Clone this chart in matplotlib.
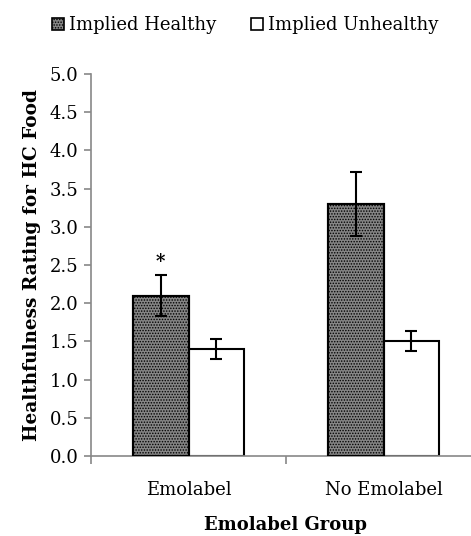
import numpy as np
import matplotlib
matplotlib.use('Agg')
import matplotlib.pyplot as plt
from matplotlib.patches import Patch

plt.rcParams['font.family'] = ['DejaVu Serif']
plt.rcParams['hatch.linewidth'] = 0.7
plt.rcParams['hatch.color'] = '#333333'

groups = ['Emolabel', 'No Emolabel']
series = ['Implied Healthy', 'Implied Unhealthy']
healthy = [2.1, 3.3]
healthy_err = [0.27, 0.42]
unhealthy = [1.4, 1.5]
unhealthy_err = [0.13, 0.13]
yticks = [0.0, 0.5, 1.0, 1.5, 2.0, 2.5, 3.0, 3.5, 4.0, 4.5, 5.0]

fig = plt.figure(figsize=(4.71, 5.36), dpi=100)
ax = fig.add_axes([91 / 471, 80 / 536, 390 / 471, 382 / 536])

x = np.arange(len(groups))
w = 0.287
ax.bar(x - w / 2, healthy, w, facecolor='#858585', edgecolor='black',
       linewidth=1.5, hatch='......', zorder=2)
ax.bar(x - w / 2, healthy, w, facecolor='none', edgecolor='black',
       linewidth=1.5, zorder=3)
ax.bar(x + w / 2, unhealthy, w, facecolor='white', edgecolor='black',
       linewidth=1.5, zorder=2)
ax.errorbar(x - w / 2, healthy, yerr=healthy_err, fmt='none', ecolor='black',
            elinewidth=1.5, capsize=4.5, capthick=1.5, zorder=4)
ax.errorbar(x + w / 2, unhealthy, yerr=unhealthy_err, fmt='none', ecolor='black',
            elinewidth=1.5, capsize=4.5, capthick=1.5, zorder=4)

# significance marker
ax.text(x[0] - w / 2, healthy[0] + healthy_err[0] + 0.05, '*', ha='center',
        va='bottom', fontsize=13, fontweight='bold')

ax.set_xlim(-0.5, 1.5)
ax.set_ylim(0, 5)
ax.set_yticks(yticks)
ax.set_yticklabels(['%.1f' % v for v in yticks], fontsize=13)
ax.set_xticks([-0.5, 0.5, 1.5])
ax.set_xticklabels([])
ax.set_xticks(x, minor=True)
ax.set_xticklabels(groups, minor=True, fontsize=13)
ax.tick_params(axis='x', which='minor', length=0, pad=18)
ax.tick_params(axis='x', which='major', length=6, color='#888888', width=1.2)
ax.tick_params(axis='y', length=5, color='#888888', width=1.2, pad=4)

for s in ['top', 'right']:
    ax.spines[s].set_visible(False)
for s in ['left', 'bottom']:
    ax.spines[s].set_color('#888888')
    ax.spines[s].set_linewidth(1.2)

ax.set_ylabel('Healthfulness Rating for HC Food', fontsize=13.3,
              fontweight='bold', labelpad=6)
ax.set_xlabel('Emolabel Group', fontsize=13, fontweight='bold', labelpad=12)

handles = [Patch(facecolor='#858585', edgecolor='black', hatch='......', linewidth=1.2),
           Patch(facecolor='white', edgecolor='black', linewidth=1.2)]
fig.legend(handles, series, loc='center', bbox_to_anchor=(0.52, 0.953), ncol=2,
           frameon=False, fontsize=13, handlelength=0.7, handleheight=0.7,
           handletextpad=0.25, columnspacing=1.9)

fig.savefig('out.png', dpi=100)
